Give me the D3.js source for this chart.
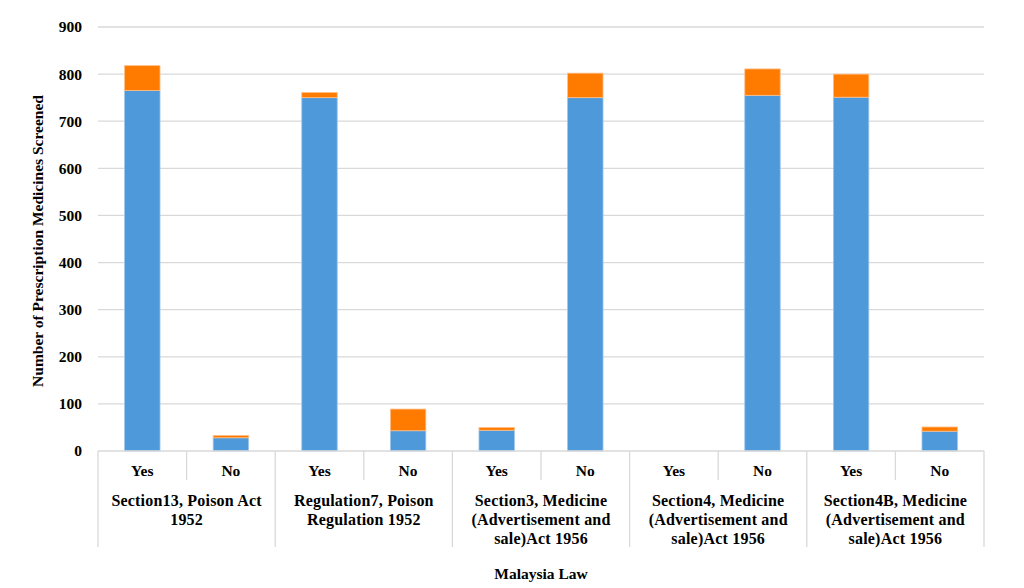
<!DOCTYPE html>
<html>
<head>
<meta charset="utf-8">
<script src="https://cdn.jsdelivr.net/npm/d3@7"></script>
<style>
  body { margin: 0; background: #fff; }
  text { font-family: "Liberation Serif", "Times New Roman", serif; font-weight: bold; fill: #000; }
</style>
</head>
<body>
<svg id="chart" width="1024" height="588"></svg>
<script>
var laws = [
  ['Section13, Poison Act', '1952'],
  ['Regulation7, Poison', 'Regulation 1952'],
  ['Section3, Medicine', '(Advertisement and', 'sale)Act 1956'],
  ['Section4, Medicine', '(Advertisement and', 'sale)Act 1956'],
  ['Section4B, Medicine', '(Advertisement and', 'sale)Act 1956']
];
var answers = ['Yes', 'No'];
var lower = [765, 28, 750, 43, 44, 750, 0, 755, 751, 42];
var upper = [53, 5, 11, 46, 6, 52, 0, 56, 49, 9];
var yTicks = [0, 100, 200, 300, 400, 500, 600, 700, 800, 900];

var svg = d3.select('#chart');
// note: "top" is reserved on window, so use plot* names
var plotLeft = 98, plotRight = 984, plotTop = 27, plotBottom = 451;

var cats = [];
laws.forEach(function(l, gi) {
  answers.forEach(function(a) { cats.push({ group: gi, answer: a }); });
});
cats.forEach(function(c, i) { c.lower = lower[i]; c.upper = upper[i]; c.key = i; });

var x = d3.scaleBand().domain(d3.range(cats.length)).range([plotLeft, plotRight]).paddingInner(0.6).paddingOuter(0.3);
var y = d3.scaleLinear().domain([0, 900]).range([plotBottom, plotTop]);
var step = x.step();

// gridlines
svg.append('g').selectAll('line').data(yTicks.slice(1)).enter().append('line')
  .attr('x1', plotLeft).attr('x2', plotRight)
  .attr('y1', function(d) { return y(d); }).attr('y2', function(d) { return y(d); })
  .attr('stroke', '#d9d9d9').attr('stroke-width', 1.3);

// y tick labels
svg.append('g').selectAll('text').data(yTicks).enter().append('text')
  .attr('x', 82).attr('y', function(d) { return y(d); }).attr('dy', '0.35em')
  .attr('text-anchor', 'end').style('font-size', '15.5px')
  .text(function(d) { return d; });

// stacked bars
var bars = svg.append('g');
bars.selectAll('rect.lo').data(cats).enter().append('rect')
  .attr('x', function(d) { return x(d.key); }).attr('width', x.bandwidth())
  .attr('y', function(d) { return y(d.lower); })
  .attr('height', function(d) { return y(0) - y(d.lower); })
  .attr('fill', '#4e99d9').attr('stroke', '#9cc6ec').attr('stroke-width', 0.8);
bars.selectAll('rect.up').data(cats.filter(function(d) { return d.upper > 0; })).enter().append('rect')
  .attr('x', function(d) { return x(d.key); }).attr('width', x.bandwidth())
  .attr('y', function(d) { return y(d.lower + d.upper); })
  .attr('height', function(d) { return y(d.lower) - y(d.lower + d.upper); })
  .attr('fill', '#ff7b00').attr('stroke', '#ffc08a').attr('stroke-width', 0.8);

// category axis
var ax = svg.append('g').attr('stroke', '#d9d9d9').attr('stroke-width', 1.3);
ax.append('line').attr('x1', plotLeft).attr('x2', plotRight).attr('y1', plotBottom).attr('y2', plotBottom);
d3.range(cats.length + 1).forEach(function(i) {
  var xx = plotLeft + i * step;
  ax.append('line').attr('x1', xx).attr('x2', xx).attr('y1', plotBottom)
    .attr('y2', i % 2 === 0 ? 547 : 480);
});

svg.append('g').selectAll('text').data(cats).enter().append('text')
  .attr('x', function(d) { return x(d.key) + x.bandwidth() / 2; })
  .attr('y', 471).attr('dy', '0.35em').attr('text-anchor', 'middle')
  .style('font-size', '15.5px').text(function(d) { return d.answer; });

laws.forEach(function(lines, gi) {
  var cx = plotLeft + (gi * 2 + 1) * step;
  var t = svg.append('text').attr('text-anchor', 'middle').style('font-size', '16px')
    .style('letter-spacing', '0.2px');
  lines.forEach(function(s, li) {
    t.append('tspan').attr('x', cx).attr('y', 500 + li * 19).attr('dy', '0.35em').text(s);
  });
});

svg.append('text').attr('x', (plotLeft + plotRight) / 2).attr('y', 574).attr('dy', '0.35em')
  .attr('text-anchor', 'middle').style('font-size', '15.5px').text('Malaysia Law');

svg.append('text').attr('transform', 'translate(38,241) rotate(-90)')
  .attr('dy', '0.35em').attr('text-anchor', 'middle').style('font-size', '15.5px')
  .text('Number of Prescription Medicines Screened');
</script>
</body>
</html>
